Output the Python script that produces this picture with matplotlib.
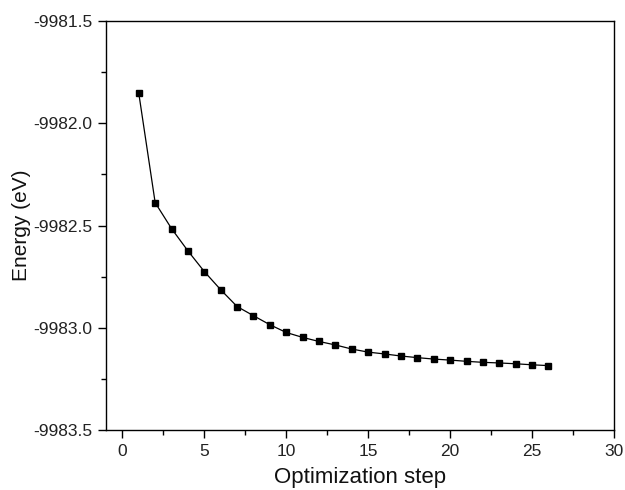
import matplotlib

matplotlib.use("Agg")
import matplotlib.pyplot as plt
from matplotlib.ticker import MultipleLocator

plt.rcParams["font.family"] = ["Liberation Sans", "DejaVu Sans"]

steps = list(range(1, 27))
energy = [
    -9981.853, -9982.388, -9982.515, -9982.624, -9982.725, -9982.814,
    -9982.896, -9982.941, -9982.985, -9983.023, -9983.047, -9983.067,
    -9983.084, -9983.104, -9983.119, -9983.128, -9983.138, -9983.146,
    -9983.153, -9983.158, -9983.164, -9983.169, -9983.172, -9983.176,
    -9983.181, -9983.185,
]

fig = plt.figure(figsize=(6.25, 4.9), dpi=100)
ax = fig.add_axes([0.1696, 0.1224, 0.8128, 0.8346])
ax.plot(steps, energy, color="black", linewidth=0.9, marker="s", markersize=3.8)

ax.set_xlim(-1, 30)
ax.set_ylim(-9983.5, -9981.5)
ax.xaxis.set_major_locator(MultipleLocator(5))
ax.xaxis.set_minor_locator(MultipleLocator(2.5))
ax.yaxis.set_major_locator(MultipleLocator(0.5))
ax.yaxis.set_minor_locator(MultipleLocator(0.25))
ax.yaxis.set_major_formatter(matplotlib.ticker.FormatStrFormatter("%.1f"))
ax.tick_params(which="major", direction="out", length=6, width=1, labelsize=12.5,
               pad=4, labelcolor="#222222", top=False, right=False)
ax.tick_params(which="minor", direction="out", length=3.5, width=1, top=False, right=False)
for s in ax.spines.values():
    s.set_linewidth(1)

ax.set_xlabel("Optimization step", fontsize=16, labelpad=6, color="#111111")
ax.set_ylabel("Energy (eV)", fontsize=15, labelpad=1, color="#111111")

fig.savefig("out.png", dpi=100)
